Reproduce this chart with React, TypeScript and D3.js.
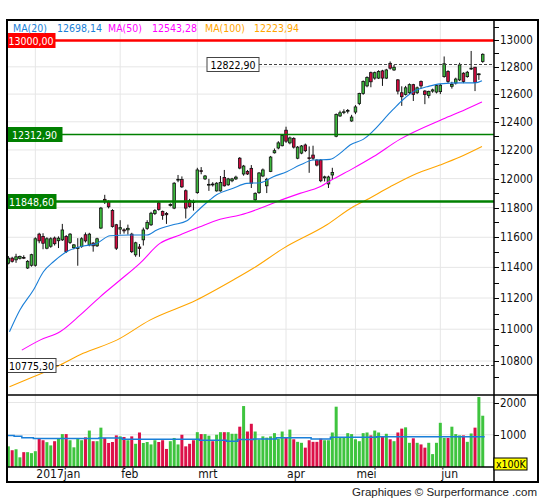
import { useEffect, useRef } from "react";
import * as d3 from "d3";

// daily candles, 21 dec 2016 .. 19 jun 2017 (index 0..123)
const opens = [
  11428, 11461, 11450, 11460, 11466, 11396, 11414, 11414, 11621, 11605,
  11527, 11540, 11595, 11577, 11583, 11605, 11565, 11530, 11527, 11538,
  11617, 11549, 11561, 11543, 11662, 11857, 11840, 11781, 11684, 11655,
  11650, 11650, 11621, 11483, 11535, 11583, 11660, 11684, 11760, 11833,
  11775, 11760, 11815, 11797, 11990, 11993, 11916, 11848, 11840, 11903,
  12055, 11998, 11955, 11962, 11915, 11915, 12008, 11957, 11985, 11998,
  12142, 12032, 12050, 12071, 11854, 11903, 12018, 11950, 12050, 12180,
  12214, 12230, 12340, 12250, 12282, 12142, 12178, 12235, 12145, 12164,
  12129, 12129, 12005, 11963, 12025, 12297, 12442, 12468, 12476, 12406,
  12470, 12532, 12604, 12660, 12757, 12717, 12717, 12770, 12717, 12826,
  12777, 12704, 12610, 12598, 12610, 12669, 12610, 12692, 12622, 12590,
  12622, 12615, 12618, 12728, 12765, 12657, 12681, 12704, 12753, 12728,
  12785, 12797, 12744, 12840,
];
const highs = [
  11475, 11470, 11490, 11478, 11480, 11448, 11490, 11600, 11630, 11627,
  11600, 11600, 11605, 11606, 11690, 11615, 11628, 11555, 11594, 11600,
  11632, 11630, 11568, 11597, 11805, 11888, 11850, 11790, 11690, 11715,
  11660, 11685, 11630, 11570, 11555, 11665, 11715, 11772, 11790, 11845,
  11780, 11770, 11830, 11975, 12025, 12015, 11925, 11860, 11855, 12075,
  12080, 12025, 11998, 11975, 11975, 12018, 12060, 12005, 12005, 12020,
  12150, 12095, 12060, 12094, 11905, 12045, 12070, 12005, 12158, 12210,
  12262, 12310, 12365, 12295, 12290, 12228, 12235, 12245, 12225, 12230,
  12135, 12135, 12020, 12020, 12075, 12460, 12480, 12490, 12492, 12450,
  12520, 12610, 12700, 12730, 12765, 12765, 12775, 12778, 12785, 12840,
  12814, 12710, 12657, 12660, 12678, 12675, 12655, 12700, 12630, 12625,
  12640, 12670, 12675, 12877, 12775, 12690, 12720, 12830, 12760, 12770,
  12918, 12800, 12753, 12900,
];
const lows = [
  11420, 11432, 11430, 11452, 11455, 11390, 11405, 11405, 11560, 11520,
  11520, 11530, 11545, 11528, 11575, 11495, 11555, 11520, 11411, 11530,
  11565, 11540, 11504, 11535, 11655, 11825, 11795, 11665, 11515, 11620,
  11625, 11618, 11495, 11470, 11470, 11545, 11650, 11676, 11750, 11780,
  11718, 11690, 11808, 11790, 11975, 11935, 11727, 11800, 11780, 11895,
  12030, 11990, 11915, 11945, 11910, 11910, 11945, 11950, 11975, 11990,
  12065, 12020, 12025, 11935, 11841, 11895, 12010, 11900, 12045, 12175,
  12205, 12225, 12250, 12240, 12210, 12135, 12170, 12185, 12040, 12130,
  12085, 11975, 11980, 11935, 11990, 12290, 12435, 12455, 12460, 12400,
  12455, 12520, 12595, 12650, 12650, 12705, 12710, 12660, 12710, 12780,
  12770, 12598, 12515, 12590, 12600, 12550, 12600, 12640, 12527, 12570,
  12610, 12605, 12600, 12720, 12680, 12640, 12670, 12695, 12680, 12720,
  12777, 12622, 12704, 12830,
];
const closes = [
  11461, 11440, 11470, 11472, 11464, 11440, 11484, 11590, 11576, 11560,
  11590, 11590, 11557, 11594, 11649, 11504, 11621, 11549, 11530, 11590,
  11576, 11621, 11543, 11590, 11797, 11840, 11806, 11672, 11527, 11665,
  11643, 11660, 11504, 11563, 11525, 11649, 11700, 11762, 11780, 11788,
  11748, 11752, 11822, 11968, 11995, 11943, 11797, 11808, 11836, 12060,
  12050, 12018, 11960, 11958, 11968, 11973, 11950, 11998, 11998, 12010,
  12073, 12087, 12032, 11968, 11898, 12039, 12060, 11995, 12150, 12195,
  12250, 12302, 12262, 12285, 12220, 12220, 12228, 12195, 12140, 12142,
  12094, 11985, 12012, 12011, 12042, 12452, 12465, 12472, 12482, 12434,
  12507, 12604, 12692, 12721, 12690, 12757, 12765, 12717, 12777, 12790,
  12797, 12622, 12581, 12646, 12669, 12598, 12646, 12660, 12598, 12620,
  12631, 12662, 12665, 12823, 12692, 12670, 12710, 12814, 12692, 12760,
  12790, 12685, 12748, 12893,
];
// volume, x100K
const volumes = [
  640, 520, 550, 300, 460, 460, 430, 490, 870, 830,
  770, 670, 800, 880, 1020, 1020, 830, 610, 870, 830,
  920, 1130, 800, 800, 1220, 900, 745, 775, 980, 950,
  930, 830, 950, 720, 1070, 745, 775, 700, 830, 775,
  830, 560, 800, 900, 700, 1000, 640, 720, 830, 1080,
  1020, 1020, 970, 800, 1000, 1080, 1080, 1080, 1030, 1030,
  1250, 1890, 1100, 1340, 1100, 850, 950, 910, 950, 1050,
  880, 1100, 930, 1160, 860, 780, 750, 600, 830, 780,
  780, 880, 830, 830, 1070, 1870, 910, 910, 1050, 1020,
  860, 800, 1050, 1070, 980, 1130, 1070, 950, 1030, 860,
  800, 1070, 1190, 1230, 750, 890, 750, 700, 600, 750,
  400, 750, 1370, 900, 900, 1250, 1020, 980, 980, 780,
  1040, 1220, 2170, 1590,
];

const monthStarts = [7, 29, 49, 72, 90, 112];
const monthNames = ["2017jan", "feb", "mrt", "apr", "mei", "jun"];

// moving averages (bar index, value)
const ma20Idx = [0.3, 3, 6.5, 9.1, 11.7, 15.1, 18.6, 22.9, 26.4, 31.6, 35.9, 38.5, 42.7, 46.3, 48.8, 52.3, 54, 58.3, 61.8, 65.3, 68.7, 72.2, 75.6, 79.1, 83.4, 86, 88.6, 92, 99.7, 102.3, 105.9, 108.5, 111.9, 117.1, 121, 122.8];
const ma20Val = [10984, 11123, 11252, 11371, 11437, 11503, 11537, 11559, 11610, 11615, 11615, 11649, 11684, 11711, 11772, 11854, 11888, 11933, 11967, 11971, 12013, 12048, 12094, 12129, 12134, 12176, 12235, 12275, 12487, 12559, 12631, 12653, 12675, 12682, 12682, 12698];
const ma50Idx = [3.5, 8.2, 13.4, 18.6, 23.8, 29, 34.1, 39.3, 44.5, 49.7, 54.9, 60.1, 65.3, 69.6, 75.6, 80.8, 84.3, 89.4, 94.6, 101.5, 112.7, 118.4, 122.8];
const ma50Val = [10868, 10931, 10984, 11090, 11208, 11317, 11427, 11559, 11615, 11671, 11721, 11750, 11796, 11841, 11898, 11944, 11998, 12071, 12152, 12275, 12420, 12487, 12543];
const ma100Idx = [0.3, 6.5, 12.5, 19.4, 28.1, 36.7, 48.8, 58.3, 63.5, 71.3, 82.6, 89.4, 92.9, 99, 105.9, 111.9, 117.1, 122.8];
const ma100Val = [10640, 10702, 10764, 10848, 10931, 11058, 11187, 11317, 11394, 11526, 11684, 11806, 11854, 11944, 12036, 12094, 12150, 12224];
const volMaIdx = [0, 2, 4, 7, 24, 30, 50, 57, 60, 64, 70, 79, 84, 96, 124];
const volMaVal = [980, 950, 910, 880, 900, 860, 830, 800, 850, 870, 910, 870, 920, 940, 940];

const priceLabels = [10800, 11000, 11200, 11400, 11600, 11800, 12000, 12200, 12400, 12600, 12800, 13000];
const volLabels = [1000, 2000];

const levelValues = [13000, 12822.9, 12312.9, 11848.6, 10775.3];
const levelTexts = ["13000,00", "12822,90", "12312,90", "11848,60", "10775,30"];

const legendNames = ["MA(20)", "MA(50)", "MA(100)"];
const legendValues = ["12698,14", "12543,28", "12223,94"];

const FONT = "Tahoma, 'DejaVu Sans Condensed', 'Liberation Sans', sans-serif";

function draw(svg: any) {
  const n = closes.length;
  const L = 7, R = 538, T = 20, B = 482;
  const axisX = 494, priceBottom = 395, volBottom = 467;

  const x = d3.scaleBand<number>().domain(d3.range(n)).range([6.4, 6.4 + 3.857 * n]);
  const cx = (i: number) => (x(i) as number) + x.bandwidth() / 2;
  const xi = d3.scaleLinear().domain([0, n - 1]).range([cx(0), cx(n - 1)]);
  const y = d3.scaleLog().domain([10800, 13000]).range([361, 40]);
  const yv = d3.scaleLinear().domain([0, 2000]).range([volBottom, 402.5]);

  svg.append("rect").attr("width", 545).attr("height", 500).attr("fill", "#fff");

  const defs = svg.append("defs");
  defs.append("clipPath").attr("id", "pclip").append("rect")
    .attr("x", L).attr("y", T).attr("width", axisX - L).attr("height", priceBottom - T);
  defs.append("clipPath").attr("id", "vclip").append("rect")
    .attr("x", L).attr("y", priceBottom).attr("width", axisX - L).attr("height", volBottom - priceBottom);

  // grid
  const grid = svg.append("g").attr("stroke", "#e6e6e6").attr("stroke-width", 1);
  priceLabels.forEach((v) => {
    grid.append("line").attr("x1", L).attr("x2", axisX).attr("y1", y(v)).attr("y2", y(v));
  });
  volLabels.forEach((v) => {
    grid.append("line").attr("x1", L).attr("x2", axisX).attr("y1", yv(v)).attr("y2", yv(v));
  });
  monthStarts.forEach((i) => {
    grid.append("line").attr("x1", cx(i)).attr("x2", cx(i)).attr("y1", T).attr("y2", volBottom);
  });

  // candles
  const pc = svg.append("g").attr("clip-path", "url(#pclip)");
  const up = "#3cb83c", down = "#d3093f";
  d3.range(n).forEach((i) => {
    const g = pc.append("g");
    const c = cx(i);
    const isUp = closes[i] >= opens[i];
    g.append("line").attr("x1", c).attr("x2", c)
      .attr("y1", y(highs[i])).attr("y2", y(lows[i]))
      .attr("stroke", "#111").attr("stroke-width", 1);
    const top = y(Math.max(opens[i], closes[i]));
    const bot = y(Math.min(opens[i], closes[i]));
    g.append("rect").attr("x", c - 1.3).attr("width", 2.6)
      .attr("y", top).attr("height", Math.max(bot - top, 0.8))
      .attr("fill", isUp ? up : down).attr("stroke", "#111").attr("stroke-width", 0.8);
  });

  // moving averages
  const line = d3.line<number>().x((d, k) => d).y((d) => d);
  const maPath = (idx: number[], val: number[], color: string) => {
    const pts: [number, number][] = idx.map((d, k) => [xi(d), y(val[k])]);
    pc.append("path").attr("d", d3.line().curve(d3.curveMonotoneX)(pts))
      .attr("fill", "none").attr("stroke", color).attr("stroke-width", 1.1);
  };
  void line;
  maPath(ma100Idx, ma100Val, "#ffa500");
  maPath(ma50Idx, ma50Val, "#ff00ff");
  maPath(ma20Idx, ma20Val, "#1a7fd8");

  // level lines
  const lv = svg.append("g");
  const levelStyle = [
    { color: "#ff0000", w: 2.5, dash: null, box: "#ff0000", txt: "#fff", bx: L, bw: 48 },
    { color: "#444", w: 1, dash: "3,2", box: "#fff", txt: "#000", bx: 207, bw: 52 },
    { color: "#008000", w: 1.3, dash: null, box: "#008000", txt: "#fff", bx: L, bw: 55 },
    { color: "#008000", w: 2.5, dash: null, box: "#008000", txt: "#fff", bx: L, bw: 49 },
    { color: "#444", w: 1, dash: "3,2", box: "#fff", txt: "#000", bx: L, bw: 49 },
  ];
  levelValues.forEach((v, k) => {
    const s = levelStyle[k];
    const yy = Math.round(y(v)) + 0.5;
    const ln = lv.append("line").attr("x1", s.dash ? s.bx + s.bw : L).attr("x2", axisX)
      .attr("y1", yy).attr("y2", yy).attr("stroke", s.color).attr("stroke-width", s.w);
    if (s.dash) ln.attr("stroke-dasharray", s.dash);
    lv.append("rect").attr("x", s.bx).attr("y", yy - 7).attr("width", s.bw).attr("height", 14)
      .attr("fill", s.box).attr("stroke", s.dash ? "#444" : s.box).attr("stroke-width", 1);
    lv.append("text").attr("x", s.bx + s.bw / 2).attr("y", yy + 4)
      .attr("text-anchor", "middle").attr("font-family", FONT).attr("font-size", 10.5)
      .attr("fill", s.txt).text(levelTexts[k]);
  });

  // legend
  const legColors = ["#1a7fd8", "#ff00ff", "#ffa500"];
  const legX = [13, 108, 205];
  const valX = [57, 152, 254];
  legendNames.forEach((name, k) => {
    svg.append("text").attr("x", legX[k]).attr("y", 32).attr("font-family", FONT)
      .attr("font-size", 10.5).attr("fill", legColors[k]).text(name);
    svg.append("text").attr("x", valX[k]).attr("y", 32).attr("font-family", FONT)
      .attr("font-size", 10.5).attr("fill", legColors[k]).text(legendValues[k]);
  });

  // volume
  const vc = svg.append("g").attr("clip-path", "url(#vclip)");
  volumes.forEach((v, i) => {
    vc.append("rect").attr("x", cx(i) - 1.5).attr("width", 3)
      .attr("y", yv(v)).attr("height", volBottom - yv(v))
      .attr("fill", closes[i] >= opens[i] ? "#3ec43e" : "#dc1048");
  });
  const vpts: [number, number][] = [];
  volMaIdx.forEach((d, k) => {
    const xs = d >= n ? (x(n - 1) as number) + x.step() : (x(d) as number);
    if (k > 0) vpts.push([xs, yv(volMaVal[k - 1])]);
    vpts.push([xs, yv(volMaVal[k])]);
  });
  vc.append("path").attr("d", d3.line()(vpts)).attr("fill", "none")
    .attr("stroke", "#1a7fd8").attr("stroke-width", 1.5);

  // frame and axes
  const fr = svg.append("g").attr("stroke", "#000").attr("fill", "none");
  fr.append("rect").attr("x", L).attr("y", T).attr("width", R - L).attr("height", B - T).attr("stroke-width", 2);
  fr.append("line").attr("x1", axisX).attr("x2", axisX).attr("y1", T).attr("y2", B).attr("stroke-width", 1.5);
  fr.append("line").attr("x1", L).attr("x2", R).attr("y1", priceBottom).attr("y2", priceBottom).attr("stroke-width", 1.5);
  fr.append("line").attr("x1", L).attr("x2", axisX).attr("y1", volBottom).attr("y2", volBottom).attr("stroke-width", 1.5);

  // price axis
  const ax = svg.append("g");
  d3.range(10600, 13101, 100).forEach((v) => {
    const yy = Math.round(y(v)) + 0.5;
    if (yy < T + 2 || yy > priceBottom - 2) return;
    ax.append("line").attr("x1", axisX).attr("x2", axisX + 5).attr("y1", yy).attr("y2", yy)
      .attr("stroke", "#000").attr("stroke-width", 1);
  });
  priceLabels.forEach((v) => {
    ax.append("text").attr("x", 500).attr("y", y(v) + 4).attr("font-family", FONT)
      .attr("font-size", 11.5).attr("fill", "#111").text(String(v));
  });
  volLabels.forEach((v) => {
    const yy = Math.round(yv(v)) + 0.5;
    ax.append("line").attr("x1", axisX).attr("x2", axisX + 5).attr("y1", yy).attr("y2", yy)
      .attr("stroke", "#000");
    ax.append("text").attr("x", 500).attr("y", yv(v) + 4).attr("font-family", FONT)
      .attr("font-size", 11.5).attr("fill", "#111").text(String(v));
  });
  ax.append("rect").attr("x", axisX).attr("y", 458).attr("width", 33).attr("height", 12)
    .attr("fill", "#ffff00").attr("stroke", "#000").attr("stroke-width", 1);
  ax.append("text").attr("x", axisX + 2).attr("y", 468).attr("font-family", FONT)
    .attr("font-size", 10.5).attr("fill", "#000").text("x100K");

  // month labels
  monthStarts.forEach((i, k) => {
    svg.append("text").attr("x", cx(i) + 1).attr("y", 478).attr("font-family", FONT)
      .attr("font-size", 12).attr("fill", "#111").text(monthNames[k]);
  });

  svg.append("text").attr("x", 537).attr("y", 496).attr("text-anchor", "end")
    .attr("font-family", "'Liberation Sans', Arial, sans-serif").attr("font-size", 11.5)
    .attr("fill", "#222").text("Graphiques © Surperformance .com");
}

export default function App() {
  const svgRef = useRef<SVGSVGElement | null>(null);
  useEffect(() => {
    if (svgRef.current) {
      const svg = d3.select(svgRef.current);
      svg.selectAll("*").remove();
      draw(svg);
    }
  }, []);
  return (
    <svg
      ref={svgRef}
      width={545}
      height={500}
      style={{ position: "absolute", left: 0, top: 0, display: "block" }}
    />
  );
}
